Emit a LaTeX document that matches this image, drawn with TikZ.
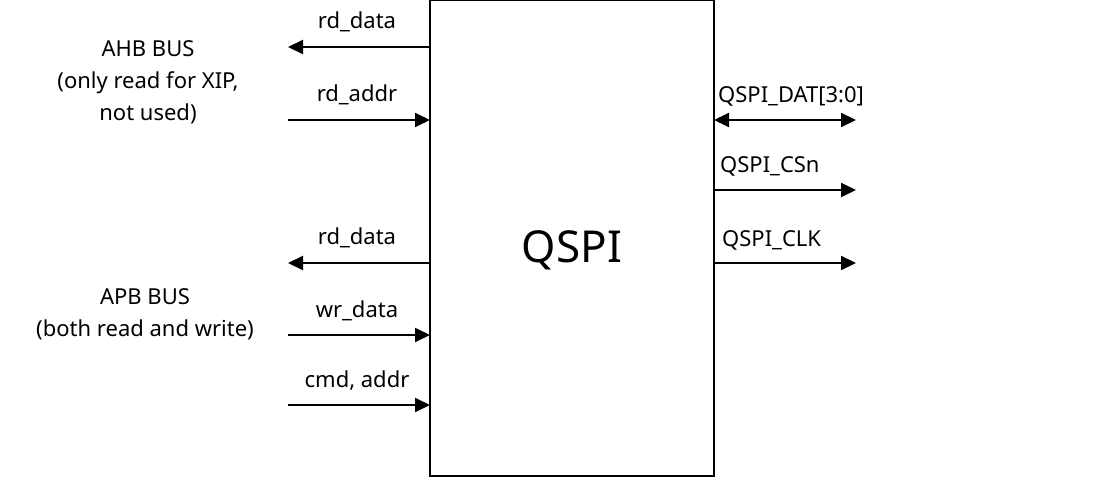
\documentclass[tikz,border=0pt]{standalone}
\usepackage{fontspec}
\setmainfont{Noto Sans}
\usetikzlibrary{arrows.meta}
\begin{document}
\begin{tikzpicture}[x=1pt,y=-1pt,
  sig/.style={line width=2pt,-{Triangle[length=15pt,width=14pt]}},
  bsig/.style={line width=2pt,{Triangle[length=15pt,width=14pt]}-{Triangle[length=15pt,width=14pt]}},
  lab/.style={font=\fontsize{22}{26}\selectfont,inner sep=0pt},
  txt/.style={font=\fontsize{22}{32}\selectfont,align=center,inner sep=0pt}]
\useasboundingbox (0,0) rectangle (1113,478);
\node[draw,line width=2pt,minimum width=284pt,minimum height=476pt,inner sep=0pt] (q) at (572,238) {};
\node[font=\fontsize{44}{50}\selectfont] (qt) at (572,250) {QSPI};
% left side
\coordinate (a1) at (430,47); \coordinate (b1) at (288,47);
\coordinate (a2) at (288,120); \coordinate (b2) at (430,120);
\coordinate (a3) at (430,263); \coordinate (b3) at (288,263);
\coordinate (a4) at (288,335); \coordinate (b4) at (430,335);
\coordinate (a5) at (288,405); \coordinate (b5) at (430,405);
\draw[sig] (a1) -- (b1);
\draw[sig] (a2) -- (b2);
\draw[sig] (a3) -- (b3);
\draw[sig] (a4) -- (b4);
\draw[sig] (a5) -- (b5);
\node[lab] (l1) at (357,22) {rd\_data};
\node[lab] (l2) at (357,95) {rd\_addr};
\node[lab] (l3) at (357,238) {rd\_data};
\node[lab] (l4) at (357,311) {wr\_data};
\node[lab] (l5) at (357,381) {cmd, addr};
% right side
\coordinate (c1) at (714,120); \coordinate (d1) at (856,120);
\coordinate (c2) at (714,190); \coordinate (d2) at (856,190);
\coordinate (c3) at (714,263); \coordinate (d3) at (856,263);
\draw[bsig] (c1) -- (d1);
\draw[sig] (c2) -- (d2);
\draw[sig] (c3) -- (d3);
\node[lab,anchor=west] (r1) at (718,96) {QSPI\_DAT[3:0]};
\node[lab,anchor=west] (r2) at (720,166) {QSPI\_CSn};
\node[lab,anchor=west] (r3) at (722,240) {QSPI\_CLK};
% bus labels
\node[txt] (ahb) at (148,82) {AHB BUS\\(only read for XIP,\\not used)};
\node[txt] (apb) at (145,314) {APB BUS\\(both read and write)};
\end{tikzpicture}
\end{document}
